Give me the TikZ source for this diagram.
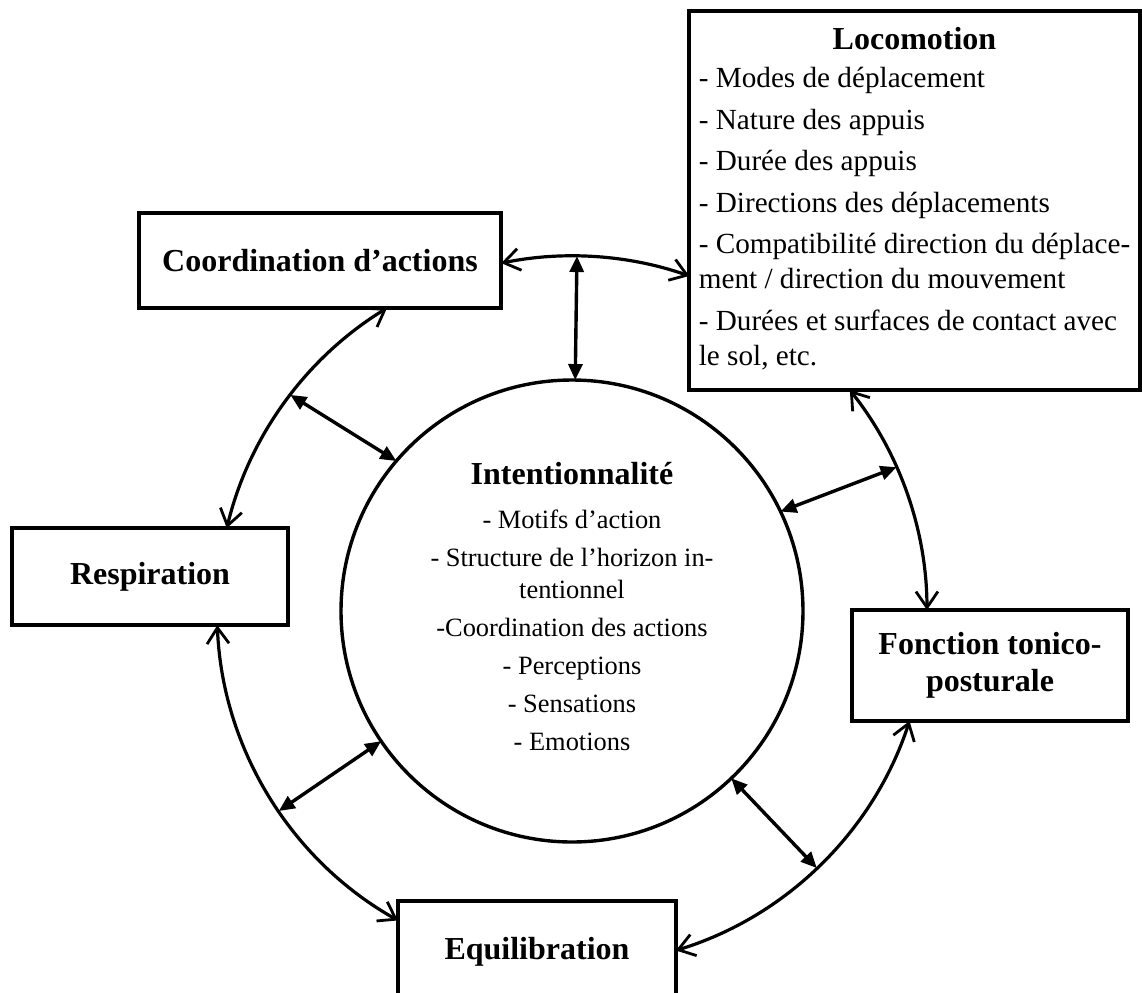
\documentclass[tikz,border=0pt]{standalone}
\usepackage{fontspec}
\setmainfont{Liberation Serif}
\usetikzlibrary{arrows.meta}
\begin{document}
\begin{tikzpicture}[x=0.5pt,y=-0.5pt,
  box/.style={draw, line width=1.9pt, inner sep=0pt, align=center,
    font=\bfseries\fontsize{16}{18.5}\selectfont},
  cyc/.style={line width=1.6pt,
    {Straight Barb[length=8pt,width=11pt,line width=1.4pt]}-{Straight Barb[length=8pt,width=11pt,line width=1.4pt]}},
  rad/.style={line width=1.7pt,
    {Triangle[length=8pt,width=7pt]}-{Triangle[length=8pt,width=7pt]}},
]
\useasboundingbox (0,0) rectangle (1142,992);
\coordinate (c) at (572,611);

% boxes
\node[box, minimum width=181pt, minimum height=47.5pt] (coord) at (320,260.5) {Coordination d’actions};
\node[box, minimum width=138pt, minimum height=48.5pt] (resp) at (150,576.5) {Respiration};
\node[box, minimum width=139pt, minimum height=51pt] (equi) at (537,952) {Equilibration};
\node[box, minimum width=138pt, minimum height=55.5pt] (fonc) at (990,665.5) {Fonction tonico-\\posturale};
\node[box, minimum width=225.5pt, minimum height=189.5pt,
      font=\fontsize{14.6}{17.5}\selectfont] (loco) at (914.5,200.5) {%
\begin{tabular}{@{}l@{}}
\multicolumn{1}{@{}c@{}}{\bfseries\fontsize{16}{17.5}\selectfont Locomotion}\\[1.5pt]
- Modes de déplacement\\[3.25pt]
- Nature des appuis\\[3.25pt]
- Durée des appuis\\[3.25pt]
- Directions des déplacements\\[3.25pt]
- Compatibilité direction du déplace-\\
ment / direction du mouvement\\[3.25pt]
- Durées et surfaces de contact avec\\
le sol, etc.
\end{tabular}};

% inner circle
\node[draw, circle, line width=1.7pt, inner sep=0pt, minimum size=231pt,
      font=\fontsize{13.2}{16}\selectfont] (intent) at (c) {%
\begin{tabular}{@{}c@{}}
{\bfseries\fontsize{16}{16}\selectfont Intentionnalité}\\[6pt]
- Motifs d’action\\[3pt]
- Structure de l’horizon in-\\
tentionnel\\[3pt]
-Coordination des actions\\[3pt]
- Perceptions\\[3pt]
- Sensations\\[3pt]
- Emotions
\end{tabular}};

% outer cycle arcs
\draw[cyc] ([shift={(101.5:177.5pt)}]c) arc[start angle=101.5, end angle=70.7, radius=177.5pt];
\draw[cyc] ([shift={(121.4:177.5pt)}]c) arc[start angle=121.4, end angle=166.5, radius=177.5pt];
\draw[cyc] ([shift={(182.3:177.5pt)}]c) arc[start angle=182.3, end angle=240.65, radius=177.5pt];
\draw[cyc] ([shift={(287.0:177.5pt)}]c) arc[start angle=287.0, end angle=341.95, radius=177.5pt];
\draw[cyc] ([shift={(0.16:177.5pt)}]c) arc[start angle=0.16, end angle=38.5, radius=177.5pt];

% radial arrows
\draw[rad] ([shift={(89.2:177.5pt)}]c) -- ([shift={(89.2:115.5pt)}]c);
\draw[rad] ([shift={(142.5:177.5pt)}]c) -- ([shift={(139.5:115.5pt)}]c);
\draw[rad] ([shift={(214.3:177.5pt)}]c) -- ([shift={(214.3:115.5pt)}]c);
\draw[rad] ([shift={(313.6:177.5pt)}]c) -- ([shift={(313.6:115.5pt)}]c);
\draw[rad] ([shift={(23.9:177.5pt)}]c) -- ([shift={(25.5:115.5pt)}]c);
\end{tikzpicture}
\end{document}
